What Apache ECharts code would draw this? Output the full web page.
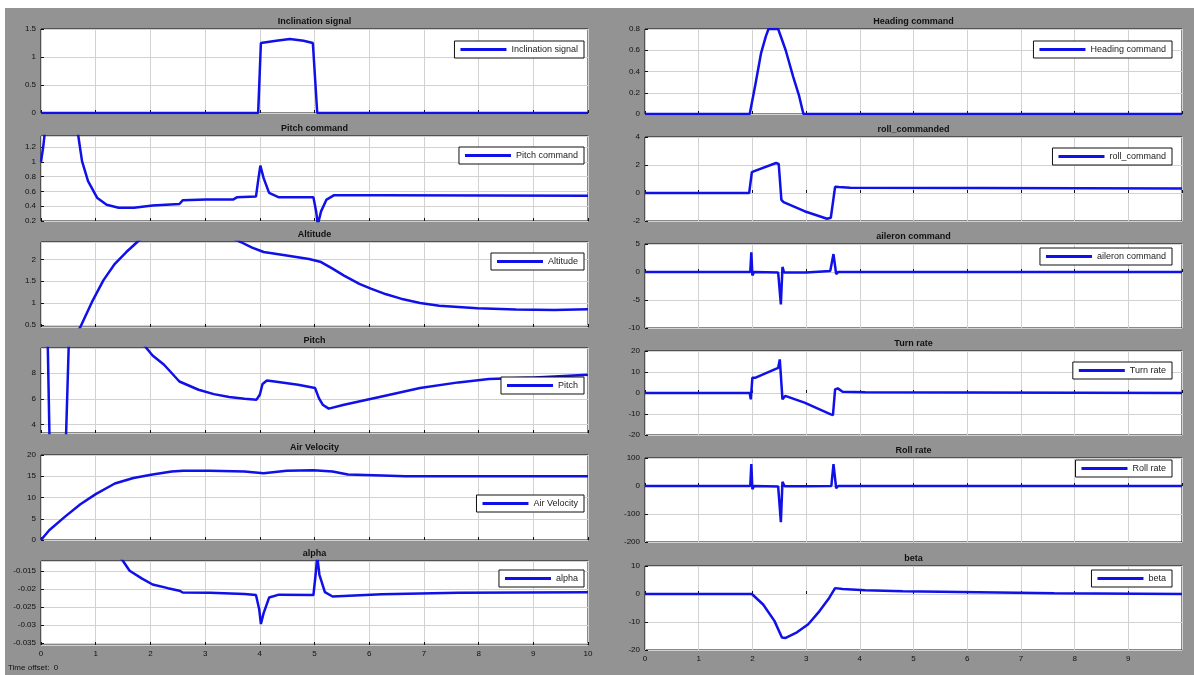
<!DOCTYPE html>
<html>
<head>
<meta charset="utf-8">
<title>Scope</title>
<script src="https://cdn.jsdelivr.net/npm/echarts@6/dist/echarts.min.js"></script>
<style>
html, body { margin: 0; padding: 0; background: #fff; }
#main { width: 1194px; height: 675px; }
</style>
</head>
<body>
<div id="main"></div>
<script>
// [time (s), value]
const inclinationSignal = [[0, 0], [3.97, 0], [4.02, 1.25], [4.3, 1.29], [4.55, 1.32], [4.8, 1.29], [4.97, 1.25], [5.05, 0], [10, 0]]
const pitchCommand = [[0, 1.0], [0.04, 1.2], [0.1, 1.6], [0.3, 2.6], [0.55, 1.9], [0.68, 1.36], [0.75, 1.01], [0.86, 0.74], [1.03, 0.51], [1.2, 0.42], [1.42, 0.38], [1.7, 0.38], [2.04, 0.41], [2.53, 0.43], [2.59, 0.48], [3.02, 0.49], [3.51, 0.49], [3.58, 0.52], [3.93, 0.53], [3.98, 0.8], [4.01, 0.95], [4.07, 0.78], [4.17, 0.58], [4.35, 0.52], [4.98, 0.52], [5.03, 0.33], [5.06, 0.15], [5.12, 0.33], [5.22, 0.49], [5.36, 0.55], [6.24, 0.55], [10, 0.54]]
const altitude = [[0.6, 0.2], [0.72, 0.45], [0.93, 1.02], [1.14, 1.52], [1.35, 1.9], [1.56, 2.17], [1.76, 2.4], [2.1, 2.75], [2.8, 2.8], [3.3, 2.6], [3.65, 2.4], [3.86, 2.27], [4.07, 2.17], [4.49, 2.09], [4.9, 2.01], [5.12, 1.94], [5.33, 1.79], [5.54, 1.63], [5.82, 1.44], [6.03, 1.33], [6.31, 1.2], [6.58, 1.1], [6.93, 1.0], [7.28, 0.94], [7.98, 0.88], [8.68, 0.85], [9.38, 0.84], [10, 0.86]]
const pitch = [[0, 12], [0.12, 11], [0.16, 2], [0.3, -2], [0.45, 2], [0.52, 12], [1.0, 15], [1.5, 13], [1.8, 10.6], [2.04, 9.37], [2.25, 8.65], [2.53, 7.35], [2.88, 6.71], [3.16, 6.37], [3.44, 6.14], [3.72, 6.01], [3.94, 5.94], [4.0, 6.32], [4.05, 7.15], [4.13, 7.43], [4.27, 7.35], [4.7, 7.1], [5.01, 6.84], [5.08, 6.06], [5.15, 5.55], [5.26, 5.24], [5.54, 5.55], [6.23, 6.19], [6.93, 6.84], [7.63, 7.28], [8.19, 7.54], [9.03, 7.66], [10, 7.87]]
const airVelocity = [[0, 0], [0.15, 2.3], [0.44, 5.5], [0.72, 8.4], [1.0, 10.8], [1.35, 13.3], [1.69, 14.6], [2.04, 15.4], [2.39, 16.1], [2.6, 16.3], [3.09, 16.3], [3.72, 16.1], [4.07, 15.7], [4.49, 16.3], [4.98, 16.4], [5.33, 16.1], [5.61, 15.4], [6.24, 15.2], [6.66, 15.0], [10, 15.0]]
const alpha = [[0, 0.01], [1.0, -0.005], [1.49, -0.0121], [1.62, -0.015], [1.84, -0.0171], [2.04, -0.0188], [2.32, -0.0198], [2.53, -0.0205], [2.59, -0.021], [3.09, -0.0211], [3.72, -0.0214], [3.93, -0.0217], [3.99, -0.0257], [4.02, -0.0297], [4.07, -0.0267], [4.17, -0.0224], [4.35, -0.0216], [4.98, -0.0217], [5.02, -0.0161], [5.05, -0.011], [5.09, -0.0161], [5.19, -0.0209], [5.33, -0.0221], [6.23, -0.0215], [7.63, -0.0211], [10, -0.0209]]
const headingCommand = [[0, 0], [1.95, 0], [2.06, 0.29], [2.16, 0.57], [2.25, 0.73], [2.3, 0.8], [2.48, 0.8], [2.62, 0.6], [2.76, 0.35], [2.87, 0.17], [2.95, 0], [10, 0]]
const rollCommand = [[0, 0], [1.94, 0], [1.99, 1.49], [2.06, 1.6], [2.44, 2.14], [2.49, 2.07], [2.54, -0.49], [2.58, -0.65], [2.97, -1.3], [3.39, -1.84], [3.46, -1.77], [3.54, 0.44], [3.61, 0.42], [3.82, 0.37], [6.21, 0.36], [10, 0.33]]
const aileronCommand = [[0, 0], [1.96, 0], [1.98, 3.5], [2.0, -0.6], [2.03, 0], [2.48, -0.1], [2.53, -5.8], [2.56, 0.9], [2.59, -0.1], [3.0, -0.1], [3.45, 0.2], [3.51, 3.2], [3.56, -0.35], [3.6, 0], [10, 0]]
const turnRate = [[0, 0], [1.95, 0], [1.97, -3], [2.0, 7.3], [2.06, 7.3], [2.48, 12], [2.51, 16], [2.54, 16], [2.56, -3], [2.61, -1.4], [2.97, -4.6], [3.46, -10.2], [3.5, -10.5], [3.54, 1.7], [3.59, 2.2], [3.68, 0.6], [4.1, 0.3], [10, 0]]
const rollRate = [[0, 0], [1.96, 0], [1.98, 78], [2.0, -11], [2.03, 0], [2.48, -2], [2.53, -129], [2.56, 15], [2.6, -1], [3.0, -1], [3.47, 0], [3.51, 78], [3.56, -8], [3.6, 0], [10, 0]]
const beta = [[0, 0], [1.99, 0], [2.2, -3.75], [2.41, -9.6], [2.55, -15.5], [2.62, -15.7], [2.83, -13.7], [3.04, -10.8], [3.25, -6.1], [3.43, -1.4], [3.54, 2.1], [3.68, 1.76], [4.1, 1.3], [4.8, 0.94], [6.21, 0.59], [7.62, 0.23], [10, 0]]

// scope panels: title, legend name, trace, y axis range
const panels = [
    { title: 'Inclination signal', name: 'Inclination signal', data: inclinationSignal, y: { min: 0, max: 1.5, interval: 0.5 } },
    { title: 'Pitch command', name: 'Pitch command', data: pitchCommand, y: { min: 0.2, max: 1.35, interval: 0.2 } },
    { title: 'Altitude', name: 'Altitude', data: altitude, y: { min: 0.45, max: 2.4, splitNumber: 4 } },
    { title: 'Pitch', name: 'Pitch', data: pitch, y: { min: 3.35, max: 9.95, splitNumber: 3 } },
    { title: 'Air Velocity', name: 'Air Velocity', data: airVelocity, y: { min: 0, max: 20, interval: 5 } },
    { title: 'alpha', name: 'alpha', data: alpha, y: { min: -0.0355, max: -0.0123, splitNumber: 5 } },
    { title: 'Heading command', name: 'Heading command', data: headingCommand, y: { min: 0, max: 0.8, interval: 0.2 } },
    { title: 'roll_commanded', name: 'roll_command', data: rollCommand, y: { min: -2, max: 4, interval: 2 } },
    { title: 'aileron command', name: 'aileron command', data: aileronCommand, y: { min: -10, max: 5, interval: 5 } },
    { title: 'Turn rate', name: 'Turn rate', data: turnRate, y: { min: -20, max: 20, interval: 10 } },
    { title: 'Roll rate', name: 'Roll rate', data: rollRate, y: { min: -200, max: 100, interval: 100 } },
    { title: 'beta', name: 'beta', data: beta, y: { min: -20, max: 10, interval: 10 } }
]

// layout: plot boxes [left, top, width, height] and legend tops
const boxes = [
    [41, 29, 547, 84], [41, 136, 547, 85], [41, 242, 547, 85],
    [41, 348, 547, 85], [41, 455, 547, 85], [41, 561, 547, 84],
    [645, 29, 537, 85], [645, 137, 537, 84], [645, 244, 537, 84],
    [645, 351, 537, 84], [645, 458, 537, 84], [645, 566, 537, 84]
]
const legendTops = [41, 147, 253, 377, 495, 570, 41, 148, 248, 362, 460, 570]

const FONT = 'Liberation Sans, Arial, sans-serif'
const BLUE = '#1010e8'

const chart = echarts.init(document.getElementById('main'))

// true when v is a whole number of steps
function onStep(v, step) {
    const k = v / step
    return Math.abs(k - Math.round(k)) < 1e-6
}

const grids = []
const xAxes = []
const yAxes = []
const series = []
const legends = []
const graphics = [
    // white margin strips of the screenshot
    { type: 'rect', shape: { x: 0, y: 0, width: 1194, height: 8 }, style: { fill: '#fff' }, silent: true },
    { type: 'rect', shape: { x: 0, y: 0, width: 5, height: 675 }, style: { fill: '#fff' }, silent: true },
    { type: 'text', x: 8, y: 668, style: { text: 'Time offset:  0', font: '8px ' + FONT, fill: '#111', textVerticalAlign: 'middle', verticalAlign: 'middle' } }
]

panels.forEach((p, i) => {
    const [l, t, w, h] = boxes[i]
    const rightCol = i >= 6
    const bottomRow = i === 5 || i === 11
    const step = p.y.interval
    grids.push({
        left: l, top: t, width: w, height: h,
        show: true, backgroundColor: '#fff', borderColor: '#111', borderWidth: 1
    })
    xAxes.push({
        type: 'value', gridIndex: i, min: 0, max: 10, interval: 1,
        axisLine: { show: false },
        axisTick: { show: true, inside: true, length: 3, lineStyle: { color: '#111' } },
        splitLine: { show: true, lineStyle: { color: '#d2d2d2', width: 1 } },
        axisLabel: {
            show: bottomRow, margin: 5, fontSize: 8, color: '#111', fontFamily: FONT,
            showMaxLabel: !rightCol
        }
    })
    yAxes.push(Object.assign({
        type: 'value', gridIndex: i,
        axisLine: { show: false },
        axisTick: { show: true, inside: true, length: 3, lineStyle: { color: '#111' } },
        splitLine: { show: true, lineStyle: { color: '#d2d2d2', width: 1 } },
        axisLabel: {
            margin: 5, fontSize: 8, color: '#111', fontFamily: FONT,
            // hide range ends that are not on a tick step
            showMinLabel: step !== undefined,
            showMaxLabel: step !== undefined && onStep(p.y.max, step)
        }
    }, p.y))
    series.push({
        name: p.name, type: 'line', xAxisIndex: i, yAxisIndex: i,
        data: p.data, showSymbol: false, clip: true,
        lineStyle: { color: BLUE, width: 2.5 }, itemStyle: { color: BLUE }
    })
    legends.push({
        data: [p.name], right: rightCol ? 22 : 610, top: legendTops[i],
        icon: 'rect', itemWidth: 46, itemHeight: 3, itemGap: 0,
        backgroundColor: '#fff', borderColor: '#111', borderWidth: 1,
        padding: [4, 6, 4, 6], selectedMode: false,
        textStyle: { fontSize: 9, color: '#222', fontFamily: FONT }
    })
    graphics.push({
        type: 'text', x: l + w / 2, y: t - 7,
        style: {
            text: p.title, font: 'bold 9px ' + FONT, fill: '#111',
            textAlign: 'center', align: 'center', textVerticalAlign: 'middle', verticalAlign: 'middle'
        }
    })
})

chart.setOption({
    backgroundColor: '#939393',
    animation: false,
    grid: grids,
    xAxis: xAxes,
    yAxis: yAxes,
    series: series,
    legend: legends,
    graphic: graphics
})
</script>
</body>
</html>
